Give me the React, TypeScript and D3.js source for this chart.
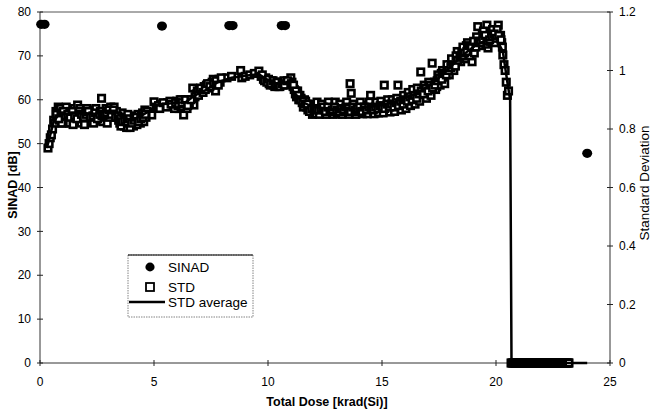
import React from "react";
import * as d3 from "d3";

const W = 651;
const H = 416;

// SINAD measurements [dose krad(Si), SINAD dB]
const sinadDose = [0.05, 0.2, 5.35, 8.3, 8.45, 10.6, 10.75, 24.0];
const sinadValue = [77.2, 77.2, 76.8, 76.9, 76.9, 76.9, 76.9, 47.8];

// STD measurements [dose, standard deviation] - first sweep
const stdPoints: [number, number][] = [
  [0.35, 0.735], [0.4, 0.75], [0.45, 0.77], [0.5, 0.78], [0.55, 0.8], [0.6, 0.83], [0.65, 0.82],
  [0.7, 0.86], [0.8, 0.875], [0.85, 0.83], [0.9, 0.87], [1.0, 0.84], [1.05, 0.82], [1.1, 0.86],
  [1.2, 0.835], [1.25, 0.855], [1.3, 0.82], [1.4, 0.845], [1.5, 0.87], [1.55, 0.83], [1.65, 0.882],
  [1.7, 0.845], [1.8, 0.82], [1.9, 0.86], [2.0, 0.835], [2.1, 0.85], [2.2, 0.825], [2.3, 0.865],
  [2.4, 0.84], [2.5, 0.855], [2.6, 0.83], [2.7, 0.905], [2.75, 0.825], [2.8, 0.86], [2.9, 0.87],
  [3.0, 0.855], [3.1, 0.875], [3.2, 0.86], [3.3, 0.85],
  [3.4, 0.84], [3.5, 0.82], [3.6, 0.855], [3.7, 0.81], [3.75, 0.835], [3.8, 0.805], [3.9, 0.82],
  [4.0, 0.845], [4.1, 0.81], [4.2, 0.83], [4.3, 0.85], [4.4, 0.82], [4.5, 0.855], [4.6, 0.865], [4.7, 0.86],
  [4.9, 0.848], [5.0, 0.893], [5.1, 0.875], [5.3, 0.885],
  [5.6, 0.89], [5.8, 0.88], [6.0, 0.895], [6.1, 0.87], [6.2, 0.9], [6.3, 0.848], [6.35, 0.885], [6.4, 0.89], [6.5, 0.9],
  [6.7, 0.94], [6.75, 0.882], [6.85, 0.92], [6.9, 0.93],
  [7.1, 0.935], [7.3, 0.95], [7.5, 0.955], [7.6, 0.97], [7.7, 0.93], [7.8, 0.965], [7.9, 0.96],
  [8.2, 0.975], [8.4, 0.98], [8.8, 1.0], [8.85, 0.975], [9.0, 0.98], [9.2, 0.985], [9.4, 0.99], [9.6, 0.998], [9.7, 0.98],
  [10.0, 0.965], [10.1, 0.95], [10.2, 0.96], [10.3, 0.945], [10.4, 0.955], [10.5, 0.95], [10.6, 0.96], [10.8, 0.955],
  [11.0, 0.975], [11.05, 0.96], [11.1, 0.945], [11.2, 0.92], [11.3, 0.93], [11.35, 0.9], [11.4, 0.915],
  [11.5, 0.89], [11.6, 0.9], [11.7, 0.875], [11.8, 0.885], [11.9, 0.865],
  [12.0, 0.875], [12.1, 0.855], [12.2, 0.88], [12.3, 0.86], [12.4, 0.852], [12.5, 0.875], [12.6, 0.865],
  [12.7, 0.852], [12.8, 0.88], [12.9, 0.86], [13.0, 0.855], [13.1, 0.87], [13.2, 0.852], [13.3, 0.875],
  [13.4, 0.86], [13.5, 0.855], [13.6, 0.955], [13.65, 0.922], [13.7, 0.865], [13.8, 0.852], [13.9, 0.875],
  [14.0, 0.86], [14.1, 0.87], [14.2, 0.855], [14.3, 0.88], [14.4, 0.865], [14.5, 0.915], [14.55, 0.86],
  [14.6, 0.875], [14.7, 0.855], [14.8, 0.885], [14.9, 0.87], [15.0, 0.86], [15.1, 0.95], [15.15, 0.88],
  [15.2, 0.865], [15.3, 0.89], [15.4, 0.87], [15.5, 0.885], [15.6, 0.875], [15.7, 0.95], [15.75, 0.895],
  [15.8, 0.88], [15.9, 0.9], [16.0, 0.885], [16.1, 0.91], [16.2, 0.89], [16.3, 0.92], [16.4, 0.9],
  [16.5, 0.925], [16.6, 0.91], [16.7, 0.995], [16.75, 0.91], [16.8, 0.935], [16.9, 0.925], [17.0, 0.945],
  [17.1, 0.935], [17.2, 1.025], [17.25, 0.95], [17.3, 0.96], [17.4, 0.945], [17.5, 0.97], [17.6, 0.99],
  [17.7, 0.975], [17.8, 1.0], [17.9, 1.01], [18.0, 1.02], [18.1, 1.0], [18.2, 1.03], [18.3, 1.065],
  [18.35, 1.04], [18.4, 1.05], [18.5, 1.06], [18.6, 1.07], [18.7, 1.085], [18.8, 1.07], [18.9, 1.075],
  [18.95, 1.03], [19.0, 1.085], [19.1, 1.095], [19.2, 1.15], [19.25, 1.09], [19.3, 1.11], [19.4, 1.12],
  [19.5, 1.105], [19.6, 1.155], [19.65, 1.077], [19.7, 1.12], [19.8, 1.13], [19.9, 1.11], [20.0, 1.125],
  [20.1, 1.155], [20.15, 1.1], [20.2, 1.12], [20.3, 1.053], [20.35, 1.02], [20.45, 0.96], [20.5, 0.915], [20.55, 0.93],
  [20.7, 0], [20.78, 0], [20.86, 0], [20.94, 0], [21.02, 0], [21.1, 0], [21.18, 0], [21.26, 0],
  [21.34, 0], [21.42, 0], [21.5, 0], [21.58, 0], [21.66, 0], [21.74, 0], [21.82, 0], [21.9, 0],
  [21.98, 0], [22.06, 0], [22.14, 0], [22.22, 0], [22.3, 0], [22.38, 0], [22.46, 0], [22.54, 0],
  [22.62, 0], [22.7, 0], [22.78, 0], [22.86, 0], [22.94, 0], [23.02, 0], [23.1, 0], [23.18, 0],
];

// STD measurements - second sweep
const stdPointsB: [number, number][] = [
  [0.75, 0.845], [0.95, 0.82], [1.15, 0.875], [1.35, 0.86], [1.45, 0.815], [1.6, 0.855], [1.75, 0.87],
  [1.85, 0.84], [1.95, 0.815], [2.05, 0.87], [2.15, 0.84], [2.25, 0.85], [2.35, 0.82], [2.45, 0.87],
  [2.55, 0.845], [2.65, 0.86], [2.85, 0.84], [2.95, 0.82], [3.05, 0.84], [3.15, 0.86], [3.25, 0.875],
  [3.35, 0.86], [3.45, 0.83], [3.55, 0.81], [3.65, 0.84], [3.85, 0.85], [3.95, 0.805], [4.05, 0.825],
  [4.15, 0.84], [4.25, 0.815], [4.35, 0.835], [4.45, 0.845], [4.55, 0.825], [4.65, 0.84],
  [5.2, 0.88], [5.5, 0.885], [5.7, 0.895], [5.9, 0.87], [6.05, 0.88], [6.15, 0.9], [6.25, 0.875],
  [6.45, 0.87], [6.55, 0.885], [6.8, 0.91], [7.0, 0.925], [7.2, 0.945], [7.4, 0.94], [7.55, 0.96],
  [7.65, 0.95], [7.75, 0.955], [7.85, 0.97],
  [9.8, 0.97], [9.9, 0.975], [10.05, 0.955], [10.15, 0.965], [10.25, 0.95], [10.35, 0.96], [10.45, 0.945],
  [10.55, 0.955], [10.65, 0.95], [10.7, 0.965], [10.9, 0.96], [11.15, 0.935], [11.25, 0.91], [11.45, 0.905],
  [11.55, 0.875], [11.65, 0.895], [11.75, 0.865], [11.85, 0.875], [11.95, 0.85],
  [12.05, 0.852], [12.15, 0.892], [12.25, 0.85], [12.35, 0.885], [12.45, 0.865], [12.55, 0.85], [12.65, 0.892],
  [12.75, 0.87], [12.85, 0.85], [12.95, 0.892], [13.05, 0.852], [13.15, 0.885], [13.25, 0.85], [13.35, 0.86],
  [13.45, 0.892], [13.55, 0.85], [13.75, 0.885], [13.85, 0.85], [13.95, 0.86], [14.05, 0.892], [14.15, 0.852],
  [14.25, 0.87], [14.35, 0.852], [14.45, 0.892], [14.65, 0.852], [14.75, 0.892], [14.85, 0.855], [14.95, 0.895],
  [15.05, 0.855], [15.25, 0.9], [15.35, 0.858], [15.45, 0.9], [15.55, 0.86], [15.65, 0.905], [15.85, 0.865],
  [15.95, 0.915], [16.05, 0.87], [16.15, 0.925], [16.25, 0.88], [16.35, 0.935], [16.45, 0.885], [16.55, 0.94],
  [16.65, 0.895],
  [16.85, 0.95], [16.95, 0.905], [17.05, 0.96], [17.15, 0.915], [17.35, 0.935], [17.45, 0.985], [17.55, 0.95],
  [17.65, 1.0], [17.75, 0.955], [17.85, 1.02], [17.95, 0.985], [18.05, 1.04], [18.15, 1.0], [18.25, 1.05],
  [18.45, 1.03], [18.55, 1.08], [18.65, 1.04], [18.75, 1.095], [18.85, 1.05], [19.05, 1.06], [19.15, 1.115],
  [19.35, 1.085], [19.45, 1.135], [19.55, 1.09], [19.75, 1.1], [19.85, 1.14], [19.95, 1.095], [20.05, 1.14],
  [20.25, 1.095], [20.4, 1.0],
  [20.66, 0], [20.74, 0], [20.82, 0], [20.9, 0], [20.98, 0], [21.06, 0], [21.14, 0], [21.22, 0],
  [21.3, 0], [21.38, 0], [21.46, 0], [21.54, 0], [21.62, 0], [21.7, 0], [21.78, 0], [21.86, 0],
  [21.94, 0], [22.02, 0], [22.1, 0], [22.18, 0], [22.26, 0], [22.34, 0], [22.42, 0], [22.5, 0],
  [22.58, 0], [22.66, 0], [22.74, 0], [22.82, 0], [22.9, 0], [22.98, 0], [23.06, 0], [23.14, 0], [23.2, 0],
];

// STD measurements - third sweep
const stdPointsC: [number, number][] = [
  [0.72, 0.85], [0.82, 0.835], [0.92, 0.855], [1.02, 0.86], [1.12, 0.845], [1.22, 0.85], [1.32, 0.84],
  [1.42, 0.86], [1.52, 0.845], [1.62, 0.835], [1.72, 0.86], [1.82, 0.85], [1.92, 0.84], [2.02, 0.85],
  [2.12, 0.86], [2.22, 0.84], [2.32, 0.845], [2.42, 0.855], [2.52, 0.835], [2.62, 0.85], [2.72, 0.845],
  [2.82, 0.85], [2.92, 0.855], [3.02, 0.865], [3.12, 0.85], [3.22, 0.865], [3.32, 0.84],
  [3.42, 0.845], [3.52, 0.835], [3.62, 0.825], [3.72, 0.83], [3.82, 0.825], [3.92, 0.835], [4.02, 0.82],
  [4.12, 0.83], [4.22, 0.84], [4.32, 0.825], [4.42, 0.835], [4.52, 0.84], [4.62, 0.85],
  [5.25, 0.87], [5.4, 0.89], [5.55, 0.875], [5.75, 0.885], [5.95, 0.89], [6.08, 0.885], [6.22, 0.89],
  [6.38, 0.9], [6.48, 0.88], [6.62, 0.9], [6.95, 0.915], [7.05, 0.94], [7.15, 0.925], [7.25, 0.935],
  [7.35, 0.955], [7.45, 0.945], [7.62, 0.955], [7.72, 0.965], [7.82, 0.95], [7.95, 0.975],
  [9.75, 0.985], [9.85, 0.965], [9.95, 0.96], [10.02, 0.97], [10.12, 0.955], [10.22, 0.965], [10.32, 0.955],
  [10.42, 0.96], [10.52, 0.945], [10.62, 0.955], [10.72, 0.95], [10.85, 0.965], [11.02, 0.955], [11.12, 0.95],
  [11.22, 0.93], [11.32, 0.915], [11.42, 0.9], [11.52, 0.895], [11.62, 0.885], [11.72, 0.885], [11.82, 0.86],
  [11.92, 0.87],
  [12.02, 0.865], [12.12, 0.87], [12.22, 0.865], [12.32, 0.87], [12.42, 0.875], [12.52, 0.86], [12.62, 0.875],
  [12.72, 0.86], [12.82, 0.865], [12.92, 0.875], [13.02, 0.865], [13.12, 0.86], [13.22, 0.87], [13.32, 0.865],
  [13.42, 0.875], [13.52, 0.87], [13.62, 0.86], [13.72, 0.875], [13.82, 0.865], [13.92, 0.87], [14.02, 0.875],
  [14.12, 0.86], [14.22, 0.875], [14.32, 0.865], [14.42, 0.875], [14.52, 0.87], [14.62, 0.865], [14.72, 0.875],
  [14.82, 0.87], [14.92, 0.88], [15.02, 0.875], [15.12, 0.87], [15.22, 0.885], [15.32, 0.875], [15.42, 0.885],
  [15.52, 0.875], [15.62, 0.89], [15.72, 0.88], [15.82, 0.895], [15.92, 0.885], [16.02, 0.9], [16.12, 0.895],
  [16.22, 0.91], [16.32, 0.9], [16.42, 0.915], [16.52, 0.905], [16.62, 0.92],
  [16.72, 0.93], [16.82, 0.92], [16.92, 0.94], [17.02, 0.93], [17.12, 0.95], [17.22, 0.94], [17.32, 0.95],
  [17.42, 0.965], [17.52, 0.975], [17.62, 0.97], [17.72, 0.99], [17.82, 0.985], [17.92, 1.0], [18.02, 1.01],
  [18.12, 1.02], [18.22, 1.015], [18.32, 1.035], [18.42, 1.045], [18.52, 1.05], [18.62, 1.06], [18.72, 1.065],
  [18.82, 1.085], [18.92, 1.08], [19.02, 1.1], [19.12, 1.08], [19.22, 1.1], [19.32, 1.095], [19.42, 1.105],
  [19.52, 1.12], [19.62, 1.1], [19.72, 1.105], [19.82, 1.115], [19.92, 1.125], [20.02, 1.11], [20.12, 1.12],
  [20.22, 1.105], [20.28, 1.08],
];

// STD average (moving average) [dose, std]
const stdAvgDose = [0.3, 0.45, 0.6, 0.8, 1.2, 1.8, 2.4, 3.0, 3.3, 3.6, 4.0, 4.4, 4.8, 5.2, 5.8, 6.4, 6.8, 7.2, 7.8, 8.4, 9.0, 9.6, 10.0, 10.5, 10.8, 11.1, 11.5, 12.0, 13.0, 14.0, 15.0, 15.5, 16.0, 16.5, 17.0, 17.5, 18.0, 18.5, 19.0, 19.5, 20.0, 20.3, 20.5, 20.62, 20.68, 24.0];
const stdAvgValue = [0.735, 0.78, 0.825, 0.848, 0.852, 0.855, 0.852, 0.862, 0.862, 0.84, 0.832, 0.843, 0.862, 0.885, 0.888, 0.892, 0.915, 0.93, 0.96, 0.975, 0.982, 0.987, 0.967, 0.952, 0.96, 0.93, 0.892, 0.875, 0.867, 0.87, 0.882, 0.892, 0.907, 0.922, 0.945, 0.975, 1.012, 1.05, 1.08, 1.102, 1.11, 1.065, 0.96, 0.9, 0, 0];

const xTicks = [0, 5, 10, 15, 20, 25];
const yLeftTicks = [0, 10, 20, 30, 40, 50, 60, 70, 80];
const yRightTicks = [0, 0.2, 0.4, 0.6, 0.8, 1, 1.2];

const FONT = "Arial, 'Liberation Sans', Helvetica, sans-serif";

export default function App() {
  const x = d3.scaleLinear().domain([0, 25]).range([40, 610]);
  const yL = d3.scaleLinear().domain([0, 80]).range([363, 12]);
  const yR = d3.scaleLinear().domain([0, 1.2]).range([363, 12]);

  const line = d3
    .line<number>()
    .x((_, i) => x(stdAvgDose[i]))
    .y((d) => yR(d));

  const sq = 6.5;
  const allStd = [...stdPoints, ...stdPointsB, ...stdPointsC];

  return (
    <svg
      width={W}
      height={H}
      style={{ position: "absolute", left: 0, top: 0, background: "#fff" }}
      fontFamily={FONT}
    >
      {/* frame */}
      <line x1={40} x2={610} y1={12} y2={12} stroke="#555" strokeWidth={1} />
      <line x1={40} x2={40} y1={12} y2={363} stroke="#333" strokeWidth={1} />
      <line x1={610} x2={610} y1={12} y2={363} stroke="#333" strokeWidth={1} />
      <line x1={40} x2={610} y1={363} y2={363} stroke="#333" strokeWidth={1} />

      {/* left ticks */}
      {yLeftTicks.map((t) => (
        <g key={"l" + t}>
          <line x1={37} x2={43} y1={yL(t)} y2={yL(t)} stroke="#222" />
          <text x={31} y={yL(t)} dy="0.35em" textAnchor="end" fontSize={12}>
            {t}
          </text>
        </g>
      ))}
      {/* right ticks */}
      {yRightTicks.map((t) => (
        <g key={"r" + t}>
          <line x1={607} x2={613} y1={yR(t)} y2={yR(t)} stroke="#222" />
          <text x={619} y={yR(t)} dy="0.35em" textAnchor="start" fontSize={12}>
            {d3.format("~g")(t)}
          </text>
        </g>
      ))}
      {/* bottom ticks */}
      {xTicks.map((t) => (
        <g key={"x" + t}>
          <line x1={x(t)} x2={x(t)} y1={360} y2={366} stroke="#222" />
          <text x={x(t)} y={386} textAnchor="middle" fontSize={12}>
            {t}
          </text>
        </g>
      ))}

      {/* axis titles */}
      <text x={327} y={406} textAnchor="middle" fontSize={12.5} fontWeight="bold">
        Total Dose [krad(Si)]
      </text>
      <text
        transform="translate(17,185) rotate(-90)"
        textAnchor="middle"
        fontSize={12.5}
        fontWeight="bold"
      >
        SINAD [dB]
      </text>
      <text
        transform="translate(649,183) rotate(-90)"
        textAnchor="middle"
        fontSize={13.5}
      >
        Standard Deviation
      </text>

      {/* STD squares */}
      {allStd.map(([d, v], i) => (
        <rect
          key={"s" + i}
          x={x(d) - sq / 2}
          y={yR(v) - sq / 2}
          width={sq}
          height={sq}
          fill="#fff"
          stroke="#000"
          strokeWidth={2.6}
        />
      ))}

      {/* STD average line */}
      <path d={line(stdAvgValue) || ""} fill="none" stroke="#000" strokeWidth={2.5} />

      {/* SINAD dots */}
      {sinadDose.map((d, i) => (
        <ellipse key={"d" + i} cx={x(d)} cy={yL(sinadValue[i])} rx={5} ry={4.6} fill="#000" />
      ))}

      {/* legend */}
      <g>
        <rect x={128} y={255} width={125} height={62} fill="#fff" stroke="#666" strokeWidth={0.8} strokeDasharray="1.5,1" />
        <line x1={128} x2={253} y1={255} y2={255} stroke="#000" strokeWidth={1} />
        <ellipse cx={150} cy={267} rx={4.6} ry={4.4} fill="#000" />
        <text x={168} y={271.5} fontSize={13.5}>SINAD</text>
        <rect x={146} y={283} width={8} height={8} fill="#fff" stroke="#000" strokeWidth={1.8} />
        <text x={168} y={291.5} fontSize={13.5}>STD</text>
        <line x1={129} x2={165} y1={302} y2={302} stroke="#000" strokeWidth={2.5} />
        <text x={168} y={306.5} fontSize={13.5}>STD average</text>
      </g>
    </svg>
  );
}
